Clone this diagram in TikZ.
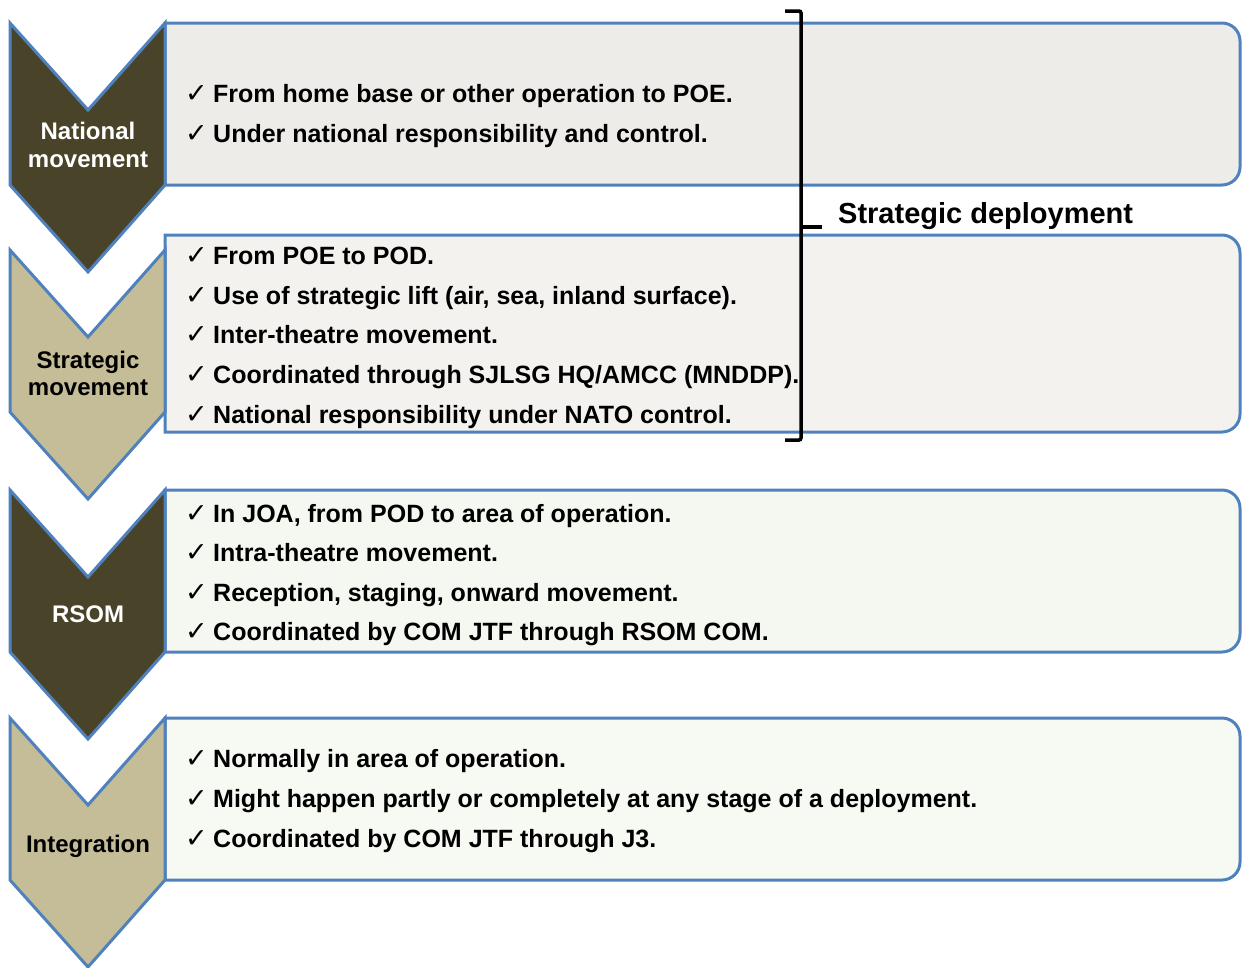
\documentclass[tikz,border=0pt]{standalone}
\usepackage{fontspec}
\setmainfont{Liberation Sans}
\newfontfamily\chkfont{DejaVu Sans}
\definecolor{bordblue}{HTML}{4F81BD}
\definecolor{chevdark}{HTML}{494429}
\definecolor{chevlight}{HTML}{C4BD97}
\definecolor{boxa}{HTML}{EDECE8}
\definecolor{boxb}{HTML}{F3F2EE}
\definecolor{boxc}{HTML}{F5F8F0}
\definecolor{boxd}{HTML}{F7F9F3}
\newcommand\mychevron[2]{%
  \draw[chev,fill=#1] (10,#2) -- (88,{#2+87}) -- (165,#2) -- (165,{#2+162}) -- (88,{#2+249}) -- (10,{#2+162}) -- cycle;}
\newcommand\mybox[3]{%
  \draw[boxst,fill=#1] (165,#2) -- (1222,#2) arc[start angle=-90,end angle=0,radius=18] -- (1240,{#3-18}) arc[start angle=0,end angle=90,radius=18] -- (165,#3) -- cycle;}
\tikzset{
  chev/.style={draw=bordblue, line width=3pt, line join=miter},
  boxst/.style={draw=bordblue, line width=3pt},
  itemtxt/.style={anchor=base west, font=\bfseries\fontsize{25}{30}\selectfont, inner sep=0pt},
  chk/.style={anchor=base west, font=\chkfont\fontsize{27}{30}\selectfont, inner sep=0pt},
  lbl/.style={font=\bfseries\fontsize{24}{28}\selectfont, align=center, inner sep=0pt, anchor=base},
  bracket/.style={draw=black, line width=3.5pt, rounded corners=2pt},
}
\begin{document}
\begin{tikzpicture}[x=1pt,y=-1pt]
\useasboundingbox (0,0) rectangle (1242,967);
% boxes
\mybox{boxa}{23}{185}
\mybox{boxb}{235}{432}
\mybox{boxc}{490}{652}
\mybox{boxd}{718}{880}
% chevrons
\mychevron{chevdark}{23}
\mychevron{chevlight}{250}
\mychevron{chevdark}{490}
\mychevron{chevlight}{718}
% chevron labels
\node[lbl,text=white] (l1a) at (88,139) {National};
\node[lbl,text=white] (l1b) at (88,167) {movement};
\node[lbl] (l2a) at (88,368) {Strategic};
\node[lbl] (l2b) at (88,395) {movement};
\node[lbl,text=white] (l3) at (88,622) {RSOM};
\node[lbl] (l4) at (88,852) {Integration};
% items
\foreach \yy/\tt [count=\i] in {102/{From home base or other operation to POE.},142/{Under national responsibility and control.},
  264/{From POE to POD.},304/{Use of strategic lift (air, sea, inland surface).},343/{Inter-theatre movement.},383/{Coordinated through SJLSG HQ/AMCC (MNDDP).},423/{National responsibility under NATO control.},
  522/{In JOA, from POD to area of operation.},561/{Intra-theatre movement.},601/{Reception, staging, onward movement.},640/{Coordinated by COM JTF through RSOM COM.},
  767/{Normally in area of operation.},807/{Might happen partly or completely at any stage of a deployment.},847/{Coordinated by COM JTF through J3.}}
{
  \node[chk] (c\i) at (185,\yy) {✓};
  \node[itemtxt] (t\i) at (213,\yy) {\tt};
}
% bracket
\coordinate (bt) at (785,11);
\coordinate (bb) at (785,440);
\coordinate (tip) at (822,227);
\draw[bracket] (bt) -- (801,11) -- (801,440) -- (bb);
\draw[line width=3.5pt] (801,227) -- (tip);
\node[anchor=base west, font=\bfseries\fontsize{29}{32}\selectfont, inner sep=0pt] (sd) at (838,223) {Strategic deployment};
\end{tikzpicture}
\end{document}
